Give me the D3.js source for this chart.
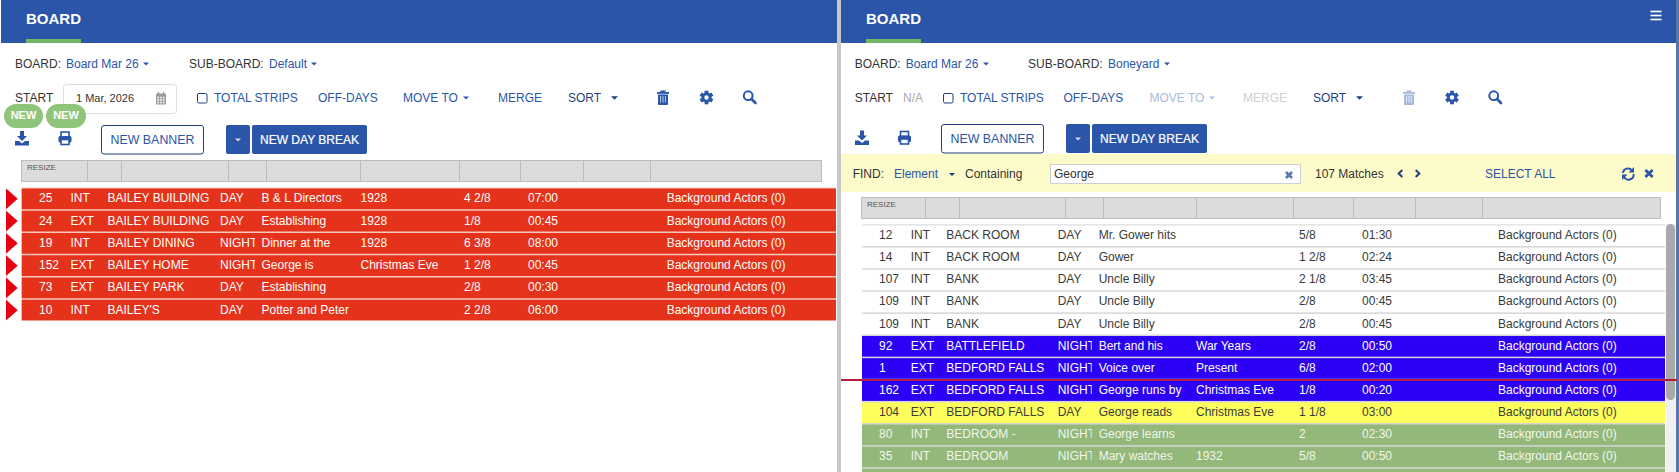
<!DOCTYPE html>
<html>
<head>
<meta charset="utf-8">
<style>
  html, body { margin: 0; padding: 0; background: #fff; overflow: hidden; }
  svg { display: block; font-family: "Liberation Sans", Arial, sans-serif; }
</style>
<script src="https://d3js.org/d3.v7.min.js"></script>
</head>
<body>
<div id="board"></div>
<script>
// left board (sub-board Default)
const leftScene = ["25", "24", "19", "152", "73", "10"];
const leftIE = ["INT", "EXT", "INT", "EXT", "EXT", "INT"];
const leftSet = ["BAILEY BUILDING", "BAILEY BUILDING", "BAILEY DINING", "BAILEY HOME", "BAILEY PARK", "BAILEY'S"];
const leftTime = ["DAY", "DAY", "NIGHT", "NIGHT", "DAY", "DAY"];
const leftDesc = ["B & L Directors", "Establishing", "Dinner at the", "George is", "Establishing", "Potter and Peter"];
const leftEra = ["1928", "1928", "1928", "Christmas Eve", "", ""];
const leftPages = ["4 2/8", "1/8", "6 3/8", "1 2/8", "2/8", "2 2/8"];
const leftDuration = ["07:00", "00:45", "08:00", "00:45", "00:30", "06:00"];
const leftExtras = ["Background Actors (0)", "Background Actors (0)", "Background Actors (0)", "Background Actors (0)", "Background Actors (0)", "Background Actors (0)"];
const leftKind = ["red", "red", "red", "red", "red", "red"];

// right board (sub-board Boneyard), the last row is cut off by the window
const rightScene = ["12", "14", "107", "109", "109", "92", "1", "162", "104", "80", "35", ""];
const rightIE = ["INT", "INT", "INT", "INT", "INT", "EXT", "EXT", "EXT", "EXT", "INT", "INT", ""];
const rightSet = ["BACK ROOM", "BACK ROOM", "BANK", "BANK", "BANK", "BATTLEFIELD", "BEDFORD FALLS", "BEDFORD FALLS", "BEDFORD FALLS", "BEDROOM -", "BEDROOM", ""];
const rightTime = ["DAY", "DAY", "DAY", "DAY", "DAY", "NIGHT", "NIGHT", "NIGHT", "DAY", "NIGHT", "NIGHT", ""];
const rightDesc = ["Mr. Gower hits", "Gower", "Uncle Billy", "Uncle Billy", "Uncle Billy", "Bert and his", "Voice over", "George runs by", "George reads", "George learns", "Mary watches", ""];
const rightEra = ["", "", "", "", "", "War Years", "Present", "Christmas Eve", "Christmas Eve", "", "1932", ""];
const rightPages = ["5/8", "1 2/8", "2 1/8", "2/8", "2/8", "2/8", "6/8", "1/8", "1 1/8", "2", "5/8", ""];
const rightDuration = ["01:30", "02:24", "03:45", "00:45", "00:45", "00:50", "02:00", "00:20", "03:00", "02:30", "00:50", ""];
const rightExtras = ["Background Actors (0)", "Background Actors (0)", "Background Actors (0)", "Background Actors (0)", "Background Actors (0)", "Background Actors (0)", "Background Actors (0)", "Background Actors (0)", "Background Actors (0)", "Background Actors (0)", "Background Actors (0)", ""];
const rightKind = ["white", "white", "white", "white", "white", "blue", "blue", "blue", "yellow", "green", "green", "green"];

const columns = ["scene", "ie", "set", "time", "desc", "era", "pages", "duration", "extras"];
const kinds = ["red", "white", "blue", "yellow", "green"];

const BLUE = "#2a55a8", NAVY = "#1f3f7f", INK = "#333", FADED = "#a9bbdb";

const stripFill = d3.scaleOrdinal(kinds, ["#e5321a", "#ffffff", "#2b00f5", "#ffff5c", "#93b87a"]);
const stripText = d3.scaleOrdinal(kinds, ["#fff", "#3a3a3a", "#fff", "#3a3a3a", "#f1f5ee"]);

const svg = d3.select("#board").append("svg")
    .attr("width", 1679)
    .attr("height", 472)
    .attr("viewBox", "0 0 1679 472");

const defs = svg.append("defs");

function text(g, x, y, str, color, size, weight, anchor) {
    return g.append("text")
        .attr("x", x)
        .attr("y", y + (size || 12) * 0.35)
        .attr("fill", color || INK)
        .attr("font-size", size || 12)
        .attr("font-weight", weight || "normal")
        .attr("text-anchor", anchor || "start")
        .text(str);
}

function caret(g, x, y, color, w) {
    w = w || 6;
    g.append("path")
        .attr("d", `M${x},${y - w / 4}h${w}l${-w / 2},${w / 2}z`)
        .attr("fill", color);
}

// --- icons, all drawn around a center point
function iconDownload(g, cx, cy, color) {
    let i = g.append("g").attr("transform", `translate(${cx},${cy})`).attr("fill", color);
    i.append("path").attr("d", "M-2,-7.5h4v5h3l-5,5l-5,-5h3z");
    i.append("path").attr("d", "M-7,2.5h4l3,2.5l3,-2.5h4v4.5h-14z");
}

function iconPrint(g, cx, cy, color) {
    let i = g.append("g").attr("transform", `translate(${cx},${cy})`);
    i.append("rect").attr("x", -4).attr("y", -6.5).attr("width", 8).attr("height", 5).attr("fill", "none").attr("stroke", color).attr("stroke-width", 1.6);
    i.append("rect").attr("x", -6.5).attr("y", -2.5).attr("width", 13).attr("height", 6.5).attr("rx", 1.5).attr("fill", color);
    i.append("rect").attr("x", -4).attr("y", 1).attr("width", 8).attr("height", 5).attr("fill", "#fff").attr("stroke", color).attr("stroke-width", 1.6);
}

function iconTrash(g, cx, cy, color) {
    let i = g.append("g").attr("transform", `translate(${cx},${cy})`).attr("fill", color);
    i.append("rect").attr("x", -6).attr("y", -5.5).attr("width", 12).attr("height", 1.8);
    i.append("rect").attr("x", -2.5).attr("y", -7).attr("width", 5).attr("height", 1.6);
    i.append("path").attr("d", "M-5,-3h10v9.5a1,1 0 0 1 -1,1h-8a1,1 0 0 1 -1,-1z");
    [-2.4, 0, 2.4].forEach(dx => i.append("rect").attr("x", dx - 0.5).attr("y", -1.5).attr("width", 1).attr("height", 6.5).attr("fill", "#fff").attr("opacity", 0.7));
}

function iconGear(g, cx, cy, color) {
    let i = g.append("g").attr("transform", `translate(${cx},${cy})`);
    d3.range(6).forEach(k => i.append("rect").attr("x", -1.9).attr("y", -6.8).attr("width", 3.8).attr("height", 3.5)
        .attr("fill", color).attr("transform", `rotate(${k * 60})`));
    i.append("circle").attr("r", 3.6).attr("fill", "none").attr("stroke", color).attr("stroke-width", 2.8);
}

function iconSearch(g, cx, cy, color) {
    let i = g.append("g").attr("transform", `translate(${cx},${cy})`).attr("fill", "none").attr("stroke", color);
    i.append("circle").attr("cx", -1.3).attr("cy", -1.3).attr("r", 4.4).attr("stroke-width", 2);
    i.append("line").attr("x1", 2).attr("y1", 2).attr("x2", 6).attr("y2", 6).attr("stroke-width", 2.6).attr("stroke-linecap", "round");
}

function iconCalendar(g, cx, cy, color) {
    let i = g.append("g").attr("transform", `translate(${cx},${cy})`);
    i.append("rect").attr("x", -5).attr("y", -5).attr("width", 10).attr("height", 11).attr("rx", 1).attr("fill", color);
    i.append("rect").attr("x", -3.2).attr("y", -6.5).attr("width", 1.3).attr("height", 2.5).attr("fill", color);
    i.append("rect").attr("x", 1.9).attr("y", -6.5).attr("width", 1.3).attr("height", 2.5).attr("fill", color);
    d3.range(3).forEach(r => d3.range(3).forEach(c => i.append("rect")
        .attr("x", -3.9 + c * 2.8).attr("y", -1.8 + r * 2.5).attr("width", 2).attr("height", 1.7).attr("fill", "#fff").attr("opacity", 0.8)));
}

function iconClose(g, cx, cy, color, r) {
    g.append("path")
        .attr("d", `M${cx - r},${cy - r}L${cx + r},${cy + r}M${cx + r},${cy - r}L${cx - r},${cy + r}`)
        .attr("stroke", color).attr("stroke-width", 2.8).attr("fill", "none");
}

function iconRefresh(g, cx, cy, color) {
    let i = g.append("g").attr("transform", `translate(${cx},${cy})`);
    i.append("path").attr("d", "M-5,-0.5A5,5 0 0 1 4,-3").attr("fill", "none").attr("stroke", color).attr("stroke-width", 1.9);
    i.append("path").attr("d", "M5.6,0.5A5,5 0 0 1 -4,3").attr("fill", "none").attr("stroke", color).attr("stroke-width", 1.9);
    i.append("path").attr("d", "M6,-6.5v5.5h-5.5z").attr("fill", color);
    i.append("path").attr("d", "M-6,6.5v-5.5h5.5z").attr("fill", color);
}

function chevron(g, cx, cy, color, dir) {
    g.append("path")
        .attr("d", `M${cx - dir * 1.8},${cy - 3.4}L${cx + dir * 1.8},${cy}L${cx - dir * 1.8},${cy + 3.4}`)
        .attr("fill", "none").attr("stroke", color).attr("stroke-width", 2);
}

// --- header band with tab underline
function header(g, x0, x1, tabX) {
    g.append("rect").attr("x", x0).attr("y", 0).attr("width", x1 - x0).attr("height", 43).attr("fill", BLUE);
    g.append("rect").attr("x", tabX).attr("y", 39).attr("width", 55).attr("height", 4).attr("fill", "#74b566");
    text(g, tabX, 19, "BOARD", "#fff", 15, "bold");
}

function newButtons(g, bannerX, dropX, y) {
    g.append("rect").attr("x", bannerX + 0.5).attr("y", y + 0.5).attr("width", 102).attr("height", 28.5).attr("rx", 2.5)
        .attr("fill", "#fff").attr("stroke", NAVY);
    text(g, bannerX + 51.5, y + 14.5, "NEW BANNER", BLUE, 12.4, "normal", "middle");
    g.append("rect").attr("x", dropX).attr("y", y).attr("width", 24).attr("height", 29).attr("rx", 2).attr("fill", BLUE);
    caret(g, dropX + 9, y + 15, "#d6def0", 6);
    g.append("rect").attr("x", dropX + 26).attr("y", y).attr("width", 115).attr("height", 29).attr("rx", 2).attr("fill", BLUE);
    text(g, dropX + 83.5, y + 14.5, "NEW DAY BREAK", "#fff", 12, "normal", "middle")
        .attr("stroke", "#fff").attr("stroke-width", 0.2);
}

// --- grey resize strip above the rows
function resizeStrip(g, x0, x1, y, dividers) {
    g.append("rect").attr("x", x0 + 0.5).attr("y", y + 0.5).attr("width", x1 - x0 - 1).attr("height", 21)
        .attr("fill", "#dcdcdc").attr("stroke", "#bdbdbd");
    g.selectAll(null).data(dividers).join("line")
        .attr("x1", d => d + 0.5).attr("x2", d => d + 0.5)
        .attr("y1", y).attr("y2", y + 22)
        .attr("stroke", "#bdbdbd");
    text(g, x0 + 6, y + 7, "RESIZE", "#555", 8);
}

// --- strip rows, one row per scene; cells are clipped like the table's fixed columns
function stripTable(g, id, xRange, top, colX, timeClip, cells, kind, backdrop) {
    let n = kind.length,
        y = d3.scaleBand().domain(d3.range(n)).range([top, top + 22 * n]).paddingInner(1.5 / 22),
        x = d3.scaleOrdinal(columns, colX);

    defs.append("clipPath").attr("id", id)
        .append("rect").attr("x", x("time")).attr("y", 0).attr("width", timeClip).attr("height", 472);

    g.append("rect")
        .attr("x", xRange[0]).attr("y", top - 1)
        .attr("width", xRange[1] - xRange[0]).attr("height", 22 * n - 0.5)
        .attr("fill", backdrop);

    let rows = g.selectAll(null).data(d3.range(n)).join("g");

    rows.append("rect")
        .attr("x", xRange[0]).attr("y", d => y(d))
        .attr("width", xRange[1] - xRange[0]).attr("height", y.bandwidth())
        .attr("fill", d => stripFill(kind[d]));

    columns.forEach((col, c) => {
        rows.append("text")
            .attr("x", x(col))
            .attr("y", d => y(d) + y.bandwidth() / 2 + 3.4)
            .attr("font-size", 12)
            .attr("fill", d => stripText(kind[d]))
            .attr("clip-path", col === "time" ? `url(#${id})` : null)
            .text(d => cells[c][d]);
    });
    return y;
}

// ---------------- left panel
const left = svg.append("g");
header(left, 1, 837, 26);

text(left, 15, 64, "BOARD:", INK);
text(left, 66, 64, "Board Mar 26", BLUE);
caret(left, 143, 64, BLUE);
text(left, 189, 64, "SUB-BOARD:", INK);
text(left, 269, 64, "Default", BLUE);
caret(left, 311, 64, BLUE);

text(left, 15, 97.5, "START", INK);
left.append("rect").attr("x", 63.5).attr("y", 84.5).attr("width", 113).attr("height", 29).attr("rx", 3)
    .attr("fill", "#fff").attr("stroke", "#dedede");
text(left, 76, 98, "1 Mar, 2026", INK, 11);
iconCalendar(left, 161, 98.5, "#9a9a9a");
left.append("rect").attr("x", 197.5).attr("y", 93.5).attr("width", 9.5).attr("height", 9.5).attr("rx", 1.5)
    .attr("fill", "#fff").attr("stroke", NAVY);
text(left, 214, 97.5, "TOTAL STRIPS", BLUE);
text(left, 318, 97.5, "OFF-DAYS", BLUE);
text(left, 403, 97.5, "MOVE TO", BLUE);
caret(left, 463, 98, BLUE);
text(left, 498, 97.5, "MERGE", BLUE);
text(left, 568, 97.5, "SORT", NAVY);
caret(left, 611, 98, NAVY, 7);
iconTrash(left, 663, 97.5, BLUE);
iconGear(left, 706.5, 97.5, BLUE);
iconSearch(left, 749.5, 97, BLUE);

iconDownload(left, 22, 138.5, BLUE);
iconPrint(left, 65, 138.5, BLUE);
newButtons(left, 101, 226, 125);

[[4, 43], [46, 86]].forEach(b => {
    left.append("rect").attr("x", b[0]).attr("y", 104).attr("width", b[1] - b[0]).attr("height", 24).attr("rx", 12)
        .attr("fill", "#8ec57a");
    text(left, (b[0] + b[1]) / 2, 115, "NEW", "#fff", 11, "bold", "middle");
});

resizeStrip(left, 21, 822, 160, [87, 121, 228, 266, 360, 459, 520, 583, 650]);

const leftY = stripTable(left, "clip-left", [21.7, 836], 188.5,
    [39, 70.5, 107.5, 220, 261.5, 360.5, 464, 528, 666.7], 35,
    [leftScene, leftIE, leftSet, leftTime, leftDesc, leftEra, leftPages, leftDuration, leftExtras],
    leftKind, "#f6c8bc");

// little red flags left of each flagged strip
left.selectAll(null).data(d3.range(leftScene.length)).join("path")
    .attr("d", d => `M6,${leftY(d)}L17.7,${leftY(d) + leftY.bandwidth() / 2}L6,${leftY(d) + leftY.bandwidth()}z`)
    .attr("fill", "#e60012");

// ---------------- panel divider
svg.append("rect").attr("x", 837).attr("y", 0).attr("width", 4).attr("height", 472).attr("fill", "#c8c8c8");

// ---------------- right panel
const right = svg.append("g");
header(right, 841, 1676, 866);
right.append("rect").attr("x", 1676).attr("y", 0).attr("width", 3).attr("height", 472).attr("fill", "#5a76a8");
[11.5, 15.5, 19.5].forEach(yy => right.append("rect").attr("x", 1650.5).attr("y", yy - 0.8).attr("width", 11).attr("height", 1.6).attr("fill", "#fff"));

text(right, 854.7, 64, "BOARD:", INK);
text(right, 905.7, 64, "Board Mar 26", BLUE);
caret(right, 983, 64, BLUE);
text(right, 1028, 64, "SUB-BOARD:", INK);
text(right, 1108, 64, "Boneyard", BLUE);
caret(right, 1164, 64, BLUE);

text(right, 854.7, 97.5, "START", INK);
text(right, 903, 97.5, "N/A", "#aaa");
right.append("rect").attr("x", 943.5).attr("y", 93.5).attr("width", 9.5).attr("height", 9.5).attr("rx", 1.5)
    .attr("fill", "#fff").attr("stroke", NAVY);
text(right, 960, 97.5, "TOTAL STRIPS", BLUE);
text(right, 1063.5, 97.5, "OFF-DAYS", BLUE);
text(right, 1149.5, 97.5, "MOVE TO", FADED);
caret(right, 1209, 98, FADED);
text(right, 1243, 97.5, "MERGE", "#d0d0d0");
text(right, 1313, 97.5, "SORT", NAVY);
caret(right, 1356, 98, NAVY, 7);
iconTrash(right, 1409, 97.5, FADED);
iconGear(right, 1452, 97.5, BLUE);
iconSearch(right, 1495, 97, BLUE);

iconDownload(right, 862, 138, BLUE);
iconPrint(right, 904.5, 138, BLUE);
newButtons(right, 941, 1066, 124);

// find bar
right.append("rect").attr("x", 841).attr("y", 154).attr("width", 835).attr("height", 38).attr("fill", "#fdfbc9");
text(right, 852.7, 174, "FIND:", INK);
text(right, 894, 174, "Element", BLUE);
caret(right, 949, 174.5, NAVY);
text(right, 965, 174, "Containing", INK);
right.append("rect").attr("x", 1050.5).attr("y", 164.5).attr("width", 250).attr("height", 19)
    .attr("fill", "#fff").attr("stroke", "#cfcfcf");
text(right, 1054, 174, "George", INK);
iconClose(right, 1289, 175, "#5878b0", 3);
text(right, 1315, 174, "107 Matches", INK);
chevron(right, 1400.5, 173.5, NAVY, -1);
chevron(right, 1417.5, 173.5, NAVY, 1);
text(right, 1485, 174, "SELECT ALL", BLUE);
iconRefresh(right, 1628, 173.5, BLUE);
iconClose(right, 1649, 173.5, BLUE, 3.6);

resizeStrip(right, 861, 1661, 197, [925, 959, 1065, 1103, 1196, 1293, 1353, 1415, 1482]);

stripTable(right, "clip-right", [862, 1665], 225.4,
    [879, 910.7, 946.3, 1057.7, 1098.7, 1196, 1299, 1362, 1498], 34,
    [rightScene, rightIE, rightSet, rightTime, rightDesc, rightEra, rightPages, rightDuration, rightExtras],
    rightKind, "#d6d6d6");

// scrollbar
right.append("rect").attr("x", 1666).attr("y", 224).attr("width", 10).attr("height", 248).attr("fill", "#f0f0f0");
right.append("rect").attr("x", 1666).attr("y", 224).attr("width", 9).attr("height", 176).attr("rx", 4.5).attr("fill", "#a9a9a9");

// drop marker line across the right board
right.append("line").attr("x1", 841).attr("x2", 1677).attr("y1", 380).attr("y2", 380)
    .attr("stroke", "#b71c3a").attr("stroke-width", 1.8);
</script>
</body>
</html>
